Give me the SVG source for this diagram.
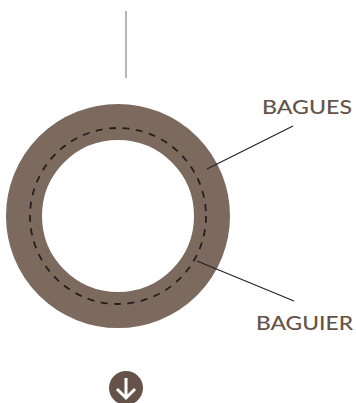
<svg xmlns="http://www.w3.org/2000/svg" width="356" height="403" viewBox="0 0 356 403">
<style>
.lbl{font-family:"Lato","Liberation Sans",sans-serif;font-size:19px;fill:#65534a;font-weight:500}
.lead{stroke:#231f20;stroke-width:1.1;fill:none}
</style>
<rect width="356" height="403" fill="#fff"/>
<g id="ring">
<circle cx="118" cy="216" r="94" fill="none" stroke="#7c6a5f" stroke-width="36"/>
<circle cx="118" cy="216" r="88" fill="none" stroke="#231f20" stroke-width="1.8" stroke-dasharray="7 6.5"/>
</g>
<g id="connectors">
<line x1="126" y1="11" x2="126" y2="78" stroke="#8f8077" stroke-width="1.2"/>
<line class="lead" x1="207" y1="169" x2="293" y2="126"/>
<line class="lead" x1="197" y1="261" x2="294" y2="301"/>
</g>
<g id="bagues"><text class="lbl" x="262" y="114" textLength="90" lengthAdjust="spacingAndGlyphs">BAGUES</text></g>
<g id="baguier"><text class="lbl" x="256" y="330" textLength="97" lengthAdjust="spacingAndGlyphs">BAGUIER</text></g>
<g id="down-icon">
<circle cx="126" cy="388" r="17" fill="#65534a"/>
<path d="M126 378V397M117 389L126 398L135 389" fill="none" stroke="#fff" stroke-width="3"/>
</g>
</svg>
